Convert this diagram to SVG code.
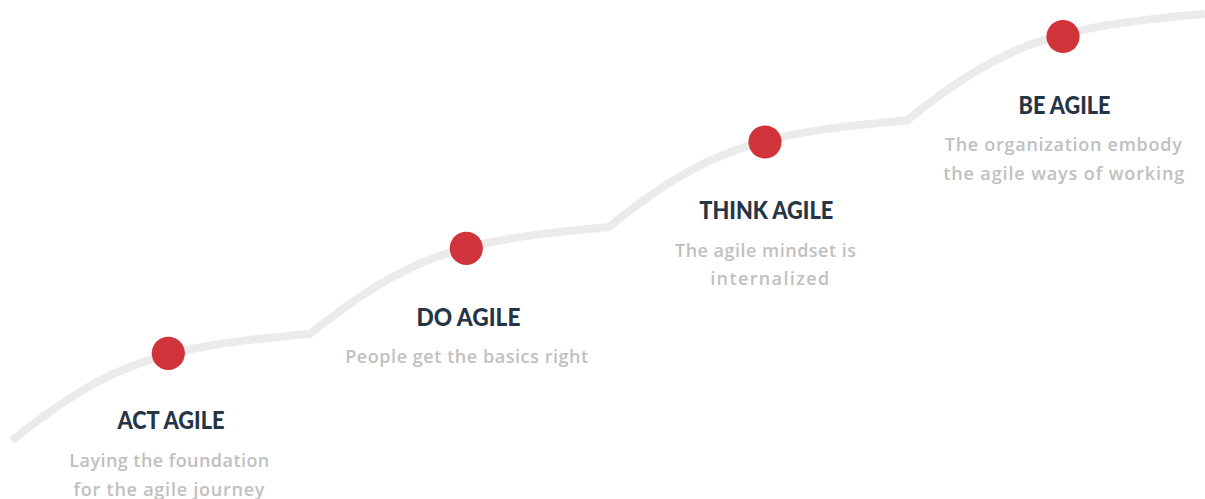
<svg xmlns="http://www.w3.org/2000/svg" width="1205" height="499" viewBox="0 0 1205 499">
  <style>
    .track { fill: none; stroke: #ebebeb; stroke-width: 8; stroke-linecap: butt; stroke-linejoin: miter; }
    .dot { fill: #d1333a; }
    .title { font-family: "Lato", "Liberation Sans", sans-serif; font-weight: 900; font-size: 24.5px; fill: #263545; text-anchor: middle; }
    .sub { font-family: "Open Sans", "Liberation Sans", sans-serif; font-weight: 600; font-size: 18px; fill: #c0c0c0; text-anchor: middle; }
  </style>

  <!-- rising track: four identical arcs, each offset by (298.3, -106.7) -->
  <g id="connectors">
    <path class="track" d="M11.7 440.7
      c100 -80 150 -94 298.3 -106.7
      c100 -80 150 -94 298.3 -106.7
      c100 -80 150 -94 298.3 -106.7
      c100 -80 150 -94 298.3 -106.7"/>
  </g>

  <g id="act-agile">
    <circle class="dot" cx="168.3" cy="353.3" r="16.6"/>
    <text class="title" x="171" y="429.3" textLength="107" lengthAdjust="spacingAndGlyphs">ACT AGILE</text>
    <text class="sub" x="169.3" y="467.3" textLength="200">Laying the foundation</text>
    <text class="sub" x="169" y="495.7" textLength="191">for the agile journey</text>
  </g>

  <g id="do-agile">
    <circle class="dot" cx="466.3" cy="248.3" r="16.6"/>
    <text class="title" x="468.5" y="326" textLength="104" lengthAdjust="spacingAndGlyphs">DO AGILE</text>
    <text class="sub" x="466.7" y="362.5" textLength="243">People get the basics right</text>
  </g>

  <g id="think-agile">
    <circle class="dot" cx="765" cy="142" r="16.6"/>
    <text class="title" x="766.3" y="219.3" textLength="134" lengthAdjust="spacingAndGlyphs">THINK AGILE</text>
    <text class="sub" x="765.5" y="256.7" textLength="181">The agile mindset is</text>
    <text class="sub" x="769.7" y="285" textLength="119">internalized</text>
  </g>

  <g id="be-agile">
    <circle class="dot" cx="1063" cy="36.5" r="16.6"/>
    <text class="title" x="1064.5" y="114" textLength="92" lengthAdjust="spacingAndGlyphs">BE AGILE</text>
    <text class="sub" x="1063.3" y="150.7" textLength="237">The organization embody</text>
    <text class="sub" x="1063.7" y="180" textLength="241">the agile ways of working</text>
  </g>
</svg>
